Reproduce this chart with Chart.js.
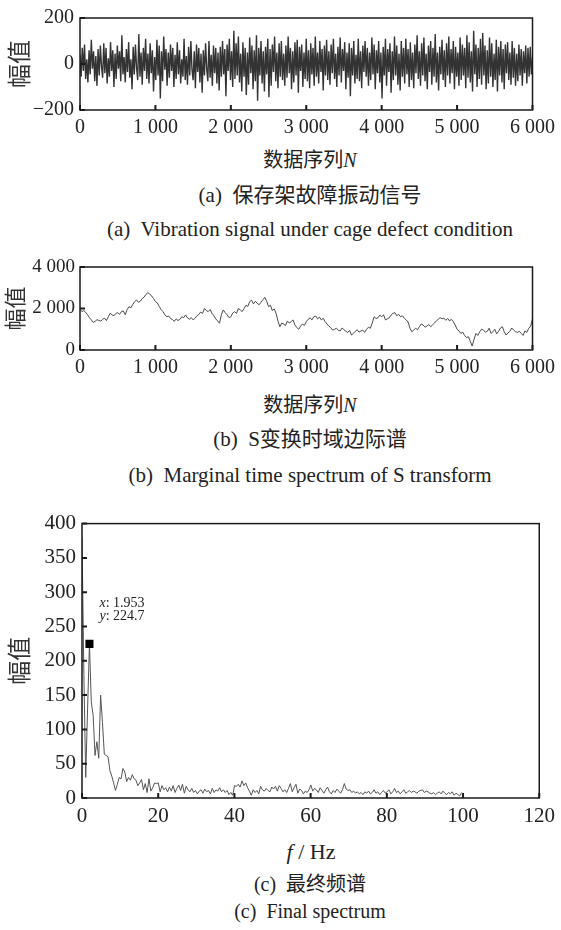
<!DOCTYPE html>
<html>
<head>
<meta charset="utf-8">
<script src="https://cdn.jsdelivr.net/npm/chart.js@4.4.1/dist/chart.umd.min.js"></script>
<style>
  body { margin: 0; background: #fff; width: 561px; height: 930px; position: relative; overflow: hidden;
         font-family: 'Liberation Serif', 'Noto Sans CJK SC', serif; color: #222; }
  .box { position: absolute; left: 0; width: 561px; }
  .txt { position: absolute; left: 0; width: 620px; text-align: center; white-space: pre; line-height: 1; }
  .txt i { font-family: 'Liberation Serif', serif; }
</style>
</head>
<body>
<div class="box" style="top:0px"><canvas id="c1" width="561" height="142"></canvas></div>
<div class="txt" style="top:150px;font-size:20px">数据序列<i>N</i></div>
<div class="txt" style="top:185px;font-size:21px">(a)  保存架故障振动信号</div>
<div class="txt" style="top:219px;font-size:21px">(a)  Vibration signal under cage defect condition</div>

<div class="box" style="top:250px"><canvas id="c2" width="561" height="132"></canvas></div>
<div class="txt" style="top:395px;font-size:20px">数据序列<i>N</i></div>
<div class="txt" style="top:429px;font-size:21px">(b)  S变换时域边际谱</div>
<div class="txt" style="top:465px;font-size:21px">(b)  Marginal time spectrum of S transform</div>

<div class="box" style="top:505px"><canvas id="c3" width="561" height="325"></canvas></div>
<div class="txt" style="top:841px;font-size:22px;width:622px"><i>f</i> / Hz</div>
<div class="txt" style="top:874px;font-size:20px">(c)  最终频谱</div>
<div class="txt" style="top:901px;font-size:20px">(c)  Final spectrum</div>

<script>
// (a) vibration signal, one reading every 15 samples
var sigStep = 15;
var signal = [
  40,-55,70,-30,85,-65,20,-80,60,-45,105,-20,55,-75,35,-95,65,-50,80,-10,
  -60,90,-40,70,-85,25,-55,95,-30,60,-100,45,-65,80,-20,55,-75,125,-45,30,
  -80,65,-35,95,-60,20,-110,75,-45,85,-15,-70,130,-55,50,-90,70,-30,110,-65,
  45,-85,90,-40,60,-120,30,-70,105,-50,80,-150,55,-75,120,-25,65,-95,50,-60,
  85,-30,70,-100,40,-65,95,-45,60,-85,20,-55,110,-70,35,-90,75,-50,100,-25,
  -70,55,-105,85,-35,70,-80,45,-125,60,-50,90,-20,-75,100,-60,40,-95,80,-40,
  70,-85,50,-115,75,-55,100,-45,65,-140,85,-30,110,-70,55,-100,145,-65,90,-50,
  120,-80,45,-120,95,-55,70,-135,50,-90,115,-40,80,-110,60,-75,125,-160,70,-50,
  100,-85,55,-120,75,-45,110,-145,65,-95,85,-35,120,-75,50,-105,90,-55,100,-70,
  45,-95,80,-60,120,-40,70,-110,55,-80,95,-50,105,-125,75,-30,85,-100,50,-65,
  110,-75,60,-105,90,-45,70,-95,120,-55,50,-85,100,-35,65,-115,80,-50,105,-70,
  55,-90,85,-40,110,-65,45,-100,75,-50,115,-80,65,-30,95,-110,50,-60,90,-140,
  70,-50,100,-85,40,-65,110,-75,55,-105,80,-35,100,-55,70,-95,50,-70,115,-45,
  85,-110,60,-40,100,-80,50,-150,75,-50,110,-95,65,-35,90,-125,55,-70,120,-50,
  80,-90,45,-115,100,-55,70,-85,110,-45,65,-100,95,-70,50,-105,85,-40,125,-65,
  55,-95,90,-50,115,-75,45,-110,80,-35,100,-90,70,-55,130,-80,50,-115,75,-45,
  105,-70,60,-100,90,-50,120,-85,65,-40,100,-110,75,-55,50,-95,115,-70,85,-50,
  70,-105,125,-60,95,-80,55,-120,145,-45,85,-100,70,-65,110,-90,135,-50,80,-110,
  60,-85,115,-55,90,-100,45,-70,105,-120,75,-50,100,-80,65,-110,85,-40,95,-70,
  50,-90,100,-60,70,-95,45,-75,85,-50,65,-95,55,-40,80,-85,70,-55,75,-45,
  30
];

// (b) marginal time spectrum, one reading every 25 samples
var margStep = 25;
var marginal = [
  1960,1850,1900,1820,1700,1560,1450,1330,1380,1460,1430,1390,1480,1540,1420,1600,1770,1690,1650,1760,
  1800,1720,1850,1880,1700,1950,2090,2030,2200,2330,2410,2300,2350,2480,2550,2680,2760,2700,2600,2480,
  2330,2270,2100,1950,1850,1700,1600,1640,1520,1470,1380,1500,1420,1480,1600,1560,1690,1550,1480,1560,
  1450,1530,1650,1710,1830,1760,2000,1900,1850,1950,1770,1650,1500,1400,1290,1700,1930,1800,1700,1560,
  1600,1780,1850,1760,2000,1930,1850,2000,2150,2100,2330,2400,2220,2350,2250,2180,2300,2420,2540,2350,
  2090,2160,1900,1980,1770,1400,1120,1300,1250,1180,1400,1300,1365,1450,1200,1080,1000,1150,1250,1180,
  1365,1480,1550,1450,1600,1640,1500,1580,1450,1530,1365,1250,1150,1080,960,1000,1050,950,920,1060,
  980,900,850,940,720,800,900,980,860,920,960,850,1000,1100,1045,1300,1600,1520,1550,1680,
  1600,1700,1450,1500,1550,1680,1770,1800,1650,1720,1600,1650,1530,1450,1350,1050,880,960,1050,980,
  1120,1260,1200,1100,1150,1230,1120,1210,1300,1400,1480,1560,1500,1540,1430,1520,1400,1480,1365,1200,
  1000,920,800,860,700,600,640,420,190,520,800,700,880,1000,960,860,900,1050,800,880,
  1000,780,900,1060,1120,880,720,820,900,1060,960,880,850,900,800,700,920,850,1045,1150,
  1500
];

// (c) final spectrum, frequency resolution df (Hz)
var df = 0.48828;
var spectrum = [
  380,180,30,130,224.7,140,120,62,82,58,
  150,110,64,62,60,40,32,22,11,20,
  30,28,43,38,24,30,26,34,28,26,
  18,22,27,12,21,8,28,10,15,22,
  21,22,9,18,12,15,9,16,10,18,
  8,14,19,11,20,7,17,12,9,14,
  8,11,6,10,12,7,13,9,11,6,
  14,8,12,10,15,9,12,8,11,5,
  8,4,18,17,20,16,25,18,22,15,
  10,4,12,8,11,6,17,12,10,14,
  11,9,16,13,17,10,18,14,9,12,
  8,14,21,9,15,20,7,13,11,6,
  10,8,12,19,10,14,12,8,15,11,
  7,12,16,9,6,11,8,13,10,7,
  12,21,13,11,12,8,10,7,9,6,
  8,5,9,7,10,6,8,12,7,9,
  5,8,11,7,9,12,6,9,14,8,
  10,6,9,12,7,9,11,8,10,9,
  7,10,11,12,8,10,9,7,6,8,
  5,7,9,6,10,7,5,8,6,9,
  4,7,5,3,8
];
var peakX = [1.953];
var peakY = [224.7];

var serif = "'Liberation Serif', serif";
var cjk = "'Noto Sans CJK SC', sans-serif";

function fmt(v) {
  var s = String(Math.abs(v)).replace(/\B(?=(\d{3})+(?!\d))/g, ' ');
  return v < 0 ? '\u2212' + s : s;
}

// box round the plot and small inward tick marks
var frame = {
  id: 'frame',
  afterDatasetsDraw: function(chart, args, o) {
    var ctx = chart.ctx, a = chart.chartArea, sx = chart.scales.x, sy = chart.scales.y;
    ctx.save();
    ctx.strokeStyle = '#1a1a1a';
    ctx.lineWidth = 1.5;
    ctx.strokeRect(a.left, a.top, a.right - a.left, a.bottom - a.top);
    ctx.lineWidth = 2;
    ctx.beginPath();
    sx.ticks.forEach(function(t) {
      var p = sx.getPixelForValue(t.value);
      ctx.moveTo(p, a.bottom); ctx.lineTo(p, a.bottom - o.len);
    });
    sy.ticks.forEach(function(t) {
      var p = sy.getPixelForValue(t.value);
      ctx.moveTo(a.left, p); ctx.lineTo(a.left + o.len, p);
    });
    ctx.stroke();
    ctx.restore();
  }
};

// data tip next to the marked peak
var peakLabel = {
  id: 'peakLabel',
  afterDatasetsDraw: function(chart, args, o) {
    if (!o.show) return;
    var ctx = chart.ctx;
    var px = chart.scales.x.getPixelForValue(peakX[0]) + 10;
    var py = chart.scales.y.getPixelForValue(peakY[0]);
    ctx.save();
    ctx.fillStyle = '#222';
    ctx.textBaseline = 'alphabetic';
    var lines = [['x', ': ' + peakX[0]], ['y', ': ' + peakY[0]]];
    lines.forEach(function(l, i) {
      var y = py - 37 + i * 13;
      ctx.font = 'italic 14px ' + serif;
      ctx.fillText(l[0], px, y);
      var w = ctx.measureText(l[0]).width;
      ctx.font = '14px ' + serif;
      ctx.fillText(l[1], px + w, y);
    });
    ctx.restore();
  }
};

function makeChart(id, cfg) {
  var datasets = [];
  if (cfg.marker) {
    datasets.push({
      data: peakX.map(function(x, i) { return { x: x, y: peakY[i] }; }),
      showLine: false, pointStyle: 'rect', pointRadius: 5.7,
      backgroundColor: '#000', borderColor: '#000', borderWidth: 0
    });
  }
  datasets.push({
    data: cfg.values.map(function(v, i) { return { x: i * cfg.step, y: v }; }),
    borderColor: cfg.color, borderWidth: cfg.lw, pointRadius: 0, fill: false, tension: 0
  });
  return new Chart(document.getElementById(id), {
    type: 'line',
    data: { datasets: datasets },
    options: {
      responsive: false,
      animation: false,
      events: [],
      layout: { padding: { top: cfg.top, right: 21, left: 0, bottom: 0 } },
      plugins: {
        legend: { display: false },
        tooltip: { enabled: false },
        frame: { len: 5 },
        peakLabel: { show: !!cfg.marker }
      },
      scales: {
        x: {
          type: 'linear', min: 0, max: cfg.xMax,
          ticks: { stepSize: cfg.xStep, autoSkip: false, maxRotation: 0, padding: 6,
                   color: '#222', font: { family: serif, size: cfg.font }, callback: fmt },
          grid: { display: false, drawTicks: false },
          border: { display: false },
          afterFit: function(s) { s.height = 32; }
        },
        y: {
          min: cfg.yMin, max: cfg.yMax,
          ticks: { stepSize: cfg.yStep, autoSkip: false, padding: cfg.yPad,
                   color: '#222', font: { family: serif, size: cfg.yFont }, callback: fmt },
          grid: { display: false, drawTicks: false },
          border: { display: false },
          title: { display: true, text: '幅值', color: '#333',
                   font: { family: cjk, size: cfg.titleSize }, padding: { top: cfg.titlePad, bottom: 0 } },
          afterFit: function(s) { s.width = cfg.left; }
        }
      }
    },
    plugins: [frame, peakLabel]
  });
}

makeChart('c1', { values: signal, step: sigStep, color: '#333', lw: 1.4, top: 15, left: 80,
  xMax: 6000, xStep: 1000, yMin: -200, yMax: 200, yStep: 200, font: 20, yFont: 20, yPad: 6,
  titleSize: 24, titlePad: 4 });
makeChart('c2', { values: marginal, step: margStep, color: '#4a4a4a', lw: 1, top: 17, left: 80,
  xMax: 6000, xStep: 1000, yMin: 0, yMax: 4000, yStep: 2000, font: 20, yFont: 19, yPad: 5,
  titleSize: 22, titlePad: 1 });
makeChart('c3', { values: spectrum, step: df, color: '#555', lw: 1, top: 15, left: 82, marker: true,
  xMax: 120, xStep: 20, yMin: 0, yMax: 400, yStep: 50, font: 21, yFont: 21, yPad: 6,
  titleSize: 24, titlePad: 4 });
</script>
</body>
</html>
